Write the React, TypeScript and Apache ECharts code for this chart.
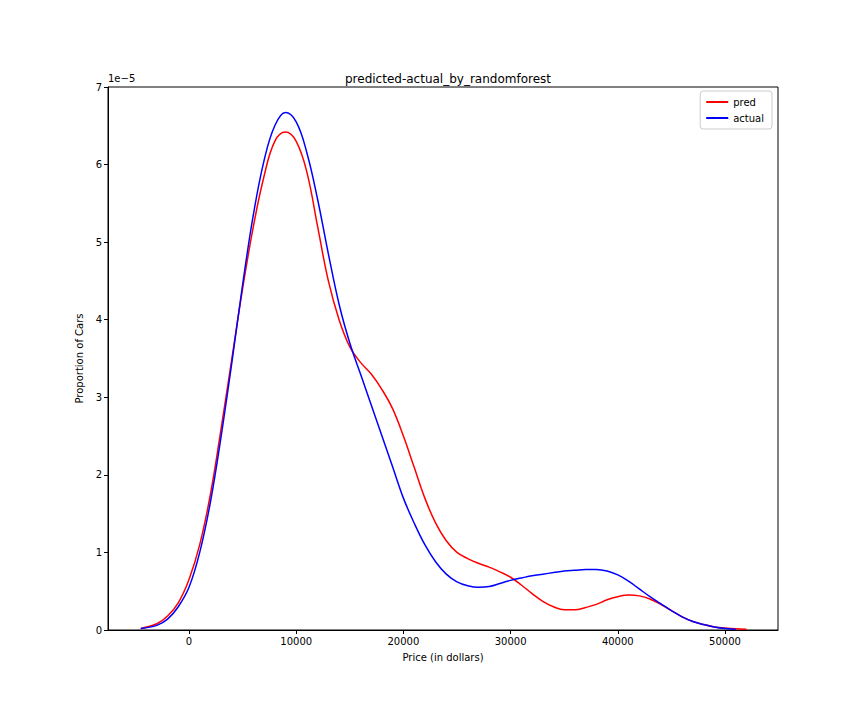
import { useEffect, useRef } from 'react'
import * as echarts from 'echarts'

const priceX = [
  -4500, -3000, -2000, -1000, 0, 1000, 2000, 3000, 4000, 5000, 6000, 7000, 8000, 9000, 10000,
  11000, 12000, 13000, 14000, 15000, 16000, 17000, 18000, 19000, 20000, 21000, 22000, 23000,
  24000, 25000, 26000, 27000, 28000, 29000, 30000, 31000, 32000, 33000, 34000, 35000, 36000,
  37000, 38000, 39000, 40000, 41000, 42000, 43000, 44000, 45000, 46000, 47000, 48000, 49000,
  50000, 51000, 52000,
]
const predY = [
  0.02, 0.08, 0.18, 0.35, 0.65, 1.1, 1.75, 2.6, 3.5, 4.4, 5.2, 5.85, 6.3, 6.42, 6.3, 5.9, 5.2,
  4.5, 4.0, 3.65, 3.45, 3.3, 3.1, 2.85, 2.5, 2.1, 1.7, 1.38, 1.15, 1.0, 0.92, 0.86, 0.81, 0.75,
  0.68, 0.58, 0.47, 0.37, 0.3, 0.26, 0.26, 0.29, 0.33, 0.39, 0.43, 0.45, 0.44, 0.4, 0.33, 0.25,
  0.17, 0.11, 0.07, 0.04, 0.025, 0.015, 0.01,
]
const actualY = [
  0.02, 0.06, 0.14, 0.3, 0.55, 1.0, 1.65, 2.5, 3.45, 4.45, 5.35, 6.05, 6.5, 6.67, 6.55, 6.15,
  5.55, 4.85, 4.2, 3.7, 3.3, 2.9, 2.5, 2.1, 1.7, 1.38, 1.1, 0.88, 0.72, 0.62, 0.57, 0.55, 0.56,
  0.6, 0.64, 0.67, 0.7, 0.72, 0.74, 0.76, 0.77, 0.78, 0.78, 0.76, 0.71, 0.63, 0.53, 0.43, 0.34,
  0.25, 0.17, 0.11, 0.07, 0.04, 0.02, 0.01,
]
const xTicks = [0, 10000, 20000, 30000, 40000, 50000]

const font = 'DejaVu Sans'

export default function App() {
  const ref = useRef<HTMLDivElement>(null)

  useEffect(() => {
    if (!ref.current) return
    const chart = echarts.init(ref.current, undefined, { renderer: 'svg' })
    const pred = priceX.map((x, i) => [x, predY[i]])
    const actual = priceX.slice(0, actualY.length).map((x, i) => [x, actualY[i]])
    chart.setOption({
      animation: false,
      backgroundColor: '#fff',
      textStyle: { fontFamily: font },
      title: {
        text: 'predicted-actual_by_randomforest',
        left: 443,
        top: 68,
        textAlign: 'center',
        textStyle: { fontSize: 12, fontWeight: 'normal', color: '#000', fontFamily: font },
      },
      legend: {
        orient: 'vertical',
        right: 92,
        top: 91,
        itemWidth: 22,
        itemHeight: 2,
        itemGap: 6,
        icon: 'rect',
        padding: [6, 8, 6, 6],
        borderColor: '#ccc',
        borderWidth: 1,
        borderRadius: 3,
        textStyle: { fontSize: 10, color: '#000', fontFamily: font },
        data: ['pred', 'actual'],
      },
      grid: { left: 108, right: 86, top: 87, bottom: 90, show: true, borderColor: '#000', borderWidth: 1 },
      graphic: [
        { type: 'text', left: 108, top: 73, style: { text: '1e\u22125', fontSize: 10, fill: '#000', fontFamily: font } },
      ],
      xAxis: {
        type: 'value',
        min: -7556,
        max: 54944,
        name: 'Price (in dollars)',
        nameLocation: 'middle',
        nameGap: 22,
        nameTextStyle: { fontSize: 10, color: '#000' },
        axisLine: { show: true, onZero: false, lineStyle: { color: '#000' } },
        axisTick: { show: true, customValues: xTicks, length: 4, lineStyle: { color: '#000' } },
        axisLabel: { customValues: xTicks, fontSize: 10, color: '#000', margin: 6, formatter: (v: number) => String(v) },
        splitLine: { show: false },
      },
      yAxis: {
        type: 'value',
        min: 0,
        max: 7,
        interval: 1,
        name: 'Proportion of Cars',
        nameLocation: 'middle',
        nameGap: 22,
        nameTextStyle: { fontSize: 10, color: '#000' },
        axisLine: { show: true, onZero: false, lineStyle: { color: '#000' } },
        axisTick: { show: true, length: 4, lineStyle: { color: '#000' } },
        axisLabel: { fontSize: 10, color: '#000', margin: 6 },
        splitLine: { show: false },
      },
      series: [
        { name: 'pred', type: 'line', data: pred, smooth: 0.4, symbol: 'none', color: '#ff0000', lineStyle: { width: 1.5 } },
        { name: 'actual', type: 'line', data: actual, smooth: 0.4, symbol: 'none', color: '#0000ff', lineStyle: { width: 1.5 } },
      ],
    })
    return () => chart.dispose()
  }, [])

  return <div ref={ref} style={{ position: 'fixed', left: 0, top: 0, width: 864, height: 720 }} />
}
